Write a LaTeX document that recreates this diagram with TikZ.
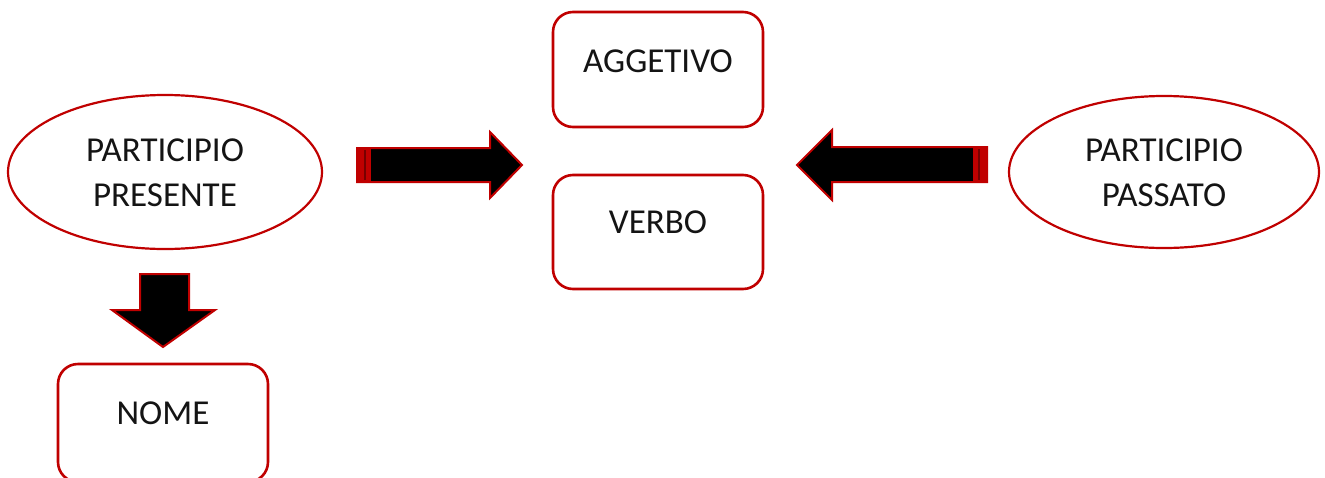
\documentclass[tikz,border=0pt]{standalone}
\usepackage{fontspec}
\setmainfont{Carlito}
\definecolor{frame}{RGB}{192,0,0}
\definecolor{band}{RGB}{120,0,0}
\definecolor{ink}{RGB}{20,20,20}
\begin{document}
\begin{tikzpicture}[x=1pt,y=-1pt,
  label/.style={text=ink,font=\fontsize{35}{45}\selectfont,align=center},
  wordbox/.style={draw=frame,line width=2.6pt,rounded corners=20pt,fill=white},
  oval/.style={draw=frame,line width=2.2pt,fill=white},
  blockarrow/.style={fill=black,draw=frame,line width=2pt,line join=miter}]
\useasboundingbox (0,0) rectangle (1325,477);

% word boxes
\draw[wordbox] (553,12) rectangle (763,127);
\node[label] (agg) at (658,61) {AGGETIVO};
\draw[wordbox] (553,175) rectangle (763,289);
\node[label] (verbo) at (658,222) {VERBO};
\draw[wordbox] (58,364) rectangle (268,482);
\node[label] (nome) at (163,413) {NOME};

% participle ovals
\draw[oval] (165,172) ellipse [x radius=157,y radius=77];
\node[label] (pres) at (165,173) {PARTICIPIO\\PRESENTE};
\draw[oval] (1164,172) ellipse [x radius=155,y radius=76];
\node[label] (pass) at (1164,173) {PARTICIPIO\\PASSATO};

% arrow from the present participle towards the centre
\draw[blockarrow] (357,148) -- (490,148) -- (490,132) -- (522,165) -- (490,198)
  -- (490,182) -- (357,182) -- cycle;
\fill[frame] (357,148) rectangle (371,182);
\draw[band,line width=1.5pt] (365,150) -- (365,180);

% arrow from the past participle towards the centre
\draw[blockarrow] (987,147) -- (832,147) -- (832,130) -- (797,165) -- (832,200)
  -- (832,182) -- (987,182) -- cycle;
\fill[frame] (973,147) rectangle (987,182);
\draw[band,line width=1.5pt] (979,149) -- (979,180);

% arrow down to NOME
\draw[blockarrow] (140,274) -- (189,274) -- (189,310) -- (215,310) -- (163,347)
  -- (112,310) -- (140,310) -- cycle;
\end{tikzpicture}
\end{document}
